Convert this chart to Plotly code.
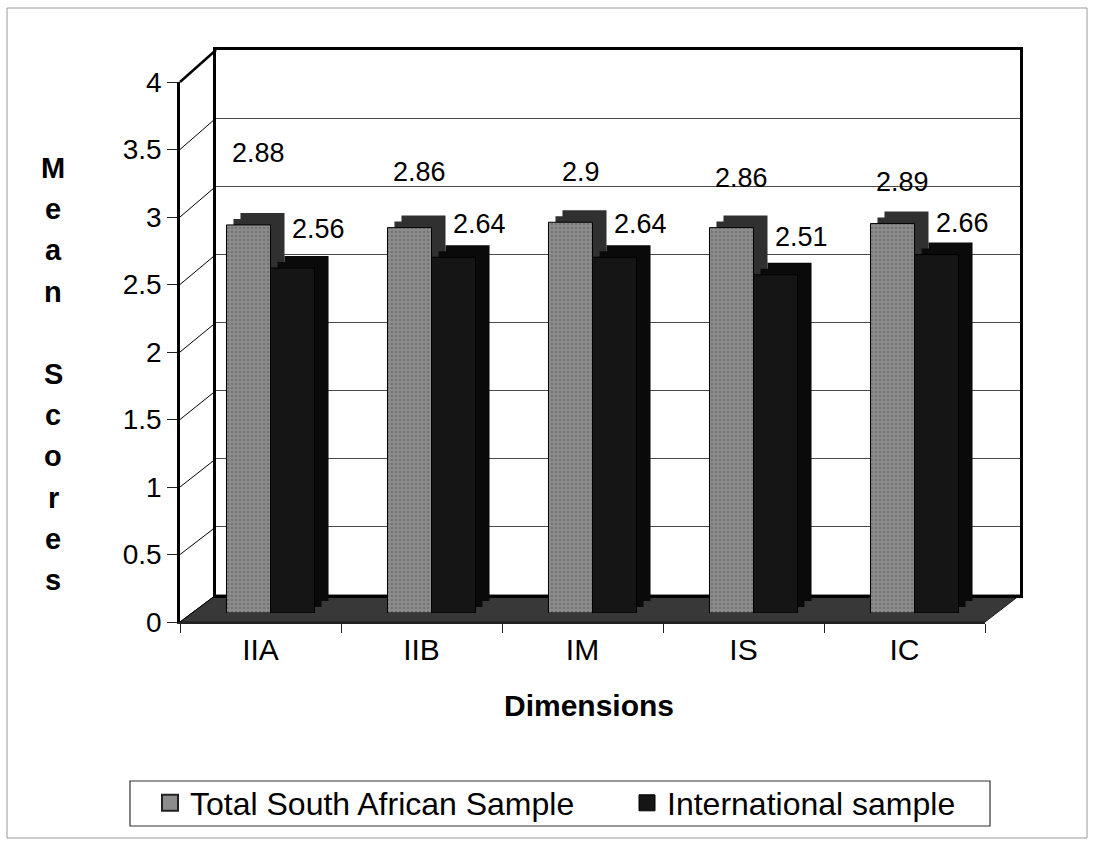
import plotly.graph_objects as go

# ---------------- data ----------------
categories = ["IIA", "IIB", "IM", "IS", "IC"]
total_sa = [2.88, 2.86, 2.90, 2.86, 2.89]
international = [2.56, 2.64, 2.64, 2.51, 2.66]
series_names = ["Total South African Sample", "International sample"]
y_ticks = [0, 0.5, 1, 1.5, 2, 2.5, 3, 3.5, 4]
y_tick_labels = ["0", "0.5", "1", "1.5", "2", "2.5", "3", "3.5", "4"]
x_title = "Dimensions"
y_title = "Mean Scores"

# ---------------- layout helpers (pixels) ----------------
W, H = 1093, 843
def fx(px):
    return px / W
def fy(py):
    return 1 - py / H

# boxes: (left, right, top, bottom) in pixels
WALL = (216, 1020, 50, 595)    # back wall of the 3-D box
DEPTH = (204, 1009, 62, 601)   # back faces of the columns
MID = (197, 1002, 68, 607)     # middle slice of the columns (fills the extrusion)
FRONT = (190, 995, 74, 613)    # front faces of the columns
AXIS = (180, 985, 82, 622)     # front axis with ticks/labels

# label lifts (pixels above the column tops) - styling only
lift_total = [72, 56, 50, 50, 42]
lift_intl = [39, 33, 33, 38, 32]

FONT = "Liberation Sans, Arial, sans-serif"
GREY = "#8c8c8c"
BLACK = "#151515"

fig = go.Figure()

# dummy trace so the back-wall subplot is drawn
fig.add_trace(go.Scatter(x=[None], y=[None], xaxis="x", yaxis="y", mode="markers",
                         showlegend=False, hoverinfo="skip"))

# depth (extrusion) of the columns: back slice and middle slice
for ax in ("2", "3"):
    fig.add_trace(go.Bar(x=categories, y=total_sa, xaxis="x" + ax, yaxis="y" + ax,
                         marker=dict(color="#303030", line=dict(width=0)),
                         showlegend=False, hoverinfo="skip"))
    fig.add_trace(go.Bar(x=categories, y=international, xaxis="x" + ax, yaxis="y" + ax,
                         marker=dict(color="#0a0a0a", line=dict(width=0)),
                         showlegend=False, hoverinfo="skip"))

# front faces
fig.add_trace(go.Bar(x=categories, y=total_sa, xaxis="x4", yaxis="y4",
                     name=series_names[0], showlegend=False,
                     marker=dict(color=GREY, line=dict(color="black", width=1),
                                 pattern=dict(shape=".", fgcolor="#5a5a5a", size=4, solidity=0.3))))
fig.add_trace(go.Bar(x=categories, y=international, xaxis="x4", yaxis="y4",
                     name=series_names[1], showlegend=False,
                     marker=dict(color=BLACK, line=dict(color="black", width=1))))

# dummy trace to give the front category axis its categories
fig.add_trace(go.Scatter(x=categories, y=[None] * len(categories), xaxis="x5", yaxis="y5",
                         mode="markers", showlegend=False, hoverinfo="skip"))

# legend entries (square swatches)
fig.add_trace(go.Scatter(x=[None], y=[None], xaxis="x5", yaxis="y5", mode="markers",
                         name=series_names[0], hoverinfo="skip",
                         marker=dict(symbol="square", size=16, color=GREY,
                                     line=dict(color="#222", width=2))))
fig.add_trace(go.Scatter(x=[None], y=[None], xaxis="x5", yaxis="y5", mode="markers",
                         name=series_names[1], hoverinfo="skip",
                         marker=dict(symbol="square", size=16, color=BLACK,
                                     line=dict(color="black", width=1))))

cat_range = [-0.5, len(categories) - 0.5]

def dom_x(box):
    return [fx(box[0]), fx(box[1])]
def dom_y(box):
    return [fy(box[3]), fy(box[2])]

hidden_x = dict(range=cat_range, visible=False, type="category",
                categoryarray=categories, automargin=False)
hidden_y = dict(range=[0, 4], visible=False, automargin=False)

fig.update_layout(
    width=W, height=H, autosize=False,
    margin=dict(l=0, r=0, t=0, b=0, pad=0, autoexpand=False),
    paper_bgcolor="white", plot_bgcolor="rgba(0,0,0,0)",
    font=dict(family=FONT, color="black"),
    barmode="group", bargap=0.453, bargroupgap=0,
    # back wall
    xaxis=dict(domain=dom_x(WALL), range=[0, 1], showgrid=False, zeroline=False,
               showticklabels=False, ticks="", showline=True, mirror=True,
               linecolor="black", linewidth=2.5, anchor="y", automargin=False),
    yaxis=dict(domain=dom_y(WALL), range=[0, 4], dtick=0.5, showgrid=True,
               gridcolor="#4a4a4a", gridwidth=1, zeroline=False, showticklabels=False,
               ticks="", showline=True, mirror=True, linecolor="black", linewidth=2.5,
               anchor="x", automargin=False),
    xaxis2=dict(domain=dom_x(DEPTH), anchor="y2", **hidden_x),
    yaxis2=dict(domain=dom_y(DEPTH), anchor="x2", **hidden_y),
    xaxis3=dict(domain=dom_x(MID), anchor="y3", **hidden_x),
    yaxis3=dict(domain=dom_y(MID), anchor="x3", **hidden_y),
    xaxis4=dict(domain=dom_x(FRONT), anchor="y4", **hidden_x),
    yaxis4=dict(domain=dom_y(FRONT), anchor="x4", **hidden_y),
    # front axis
    xaxis5=dict(domain=dom_x(AXIS), range=cat_range, type="category",
                categoryarray=categories, anchor="y5", showgrid=False, zeroline=False,
                showline=True, linecolor="#222", linewidth=1.5,
                ticks="outside", tickson="boundaries", ticklen=9, tickcolor="#222",
                tickfont=dict(size=30, family=FONT, color="black"), automargin=False),
    yaxis5=dict(domain=dom_y(AXIS), range=[0, 4], anchor="x5", showgrid=False,
                zeroline=False, showline=True, linecolor="black", linewidth=2.5,
                tickmode="array", tickvals=y_ticks, ticktext=y_tick_labels,
                ticks="outside", ticklen=10, tickcolor="#222",
                tickfont=dict(size=28, family=FONT, color="black"), automargin=False),
    legend=dict(orientation="h", x=fx(150), xanchor="left", y=fy(803), yanchor="middle",
                bgcolor="rgba(0,0,0,0)", borderwidth=0,
                font=dict(size=32, family=FONT, color="black"),
                entrywidth=432, entrywidthmode="pixels", traceorder="normal"),
)

shapes = []
# floor
fl, fr, ft, fb = AXIS
wl, wr, wt, wb = WALL
shapes.append(dict(type="path", xref="paper", yref="paper", layer="below",
                   path=f"M {fx(fl)} {fy(fb)} L {fx(fr)} {fy(fb)} L {fx(wr)} {fy(wb)} L {fx(wl)} {fy(wb)} Z",
                   fillcolor="#383838", line=dict(color="#1a1a1a", width=1)))
# left side wall diagonals
for v in y_ticks:
    ya = fb - v * (fb - ft) / 4
    yw = wb - v * (wb - wt) / 4
    shapes.append(dict(type="line", xref="paper", yref="paper", layer="above",
                       x0=fx(fl), y0=fy(ya), x1=fx(wl), y1=fy(yw),
                       line=dict(color="black", width=2.5 if v == 4 else 1)))
# legend box
shapes.append(dict(type="rect", xref="paper", yref="paper", layer="below",
                   x0=fx(130), x1=fx(990), y0=fy(826), y1=fy(781),
                   line=dict(color="#333", width=1.2), fillcolor="rgba(0,0,0,0)"))
# outer chart border
shapes.append(dict(type="rect", xref="paper", yref="paper", layer="below",
                   x0=fx(7), x1=fx(1087), y0=fy(838), y1=fy(8),
                   line=dict(color="#9a9a9a", width=1), fillcolor="rgba(0,0,0,0)"))
fig.update_layout(shapes=shapes)

annotations = []
for i, c in enumerate(categories):
    annotations.append(dict(x=c, y=total_sa[i], xref="x4", yref="y4", text=f"{total_sa[i]:g}",
                            showarrow=False, xshift=-12, yshift=lift_total[i],
                            font=dict(size=27, family=FONT, color="black")))
    annotations.append(dict(x=c, y=international[i], xref="x4", yref="y4", text=f"{international[i]:g}",
                            showarrow=False, xshift=48, yshift=lift_intl[i],
                            font=dict(size=27, family=FONT, color="black")))
# x title
annotations.append(dict(x=fx(589), y=fy(705), xref="paper", yref="paper", text=f"<b>{x_title}</b>",
                        showarrow=False, xanchor="center", yanchor="middle",
                        font=dict(size=30, family=FONT, color="black")))
# y title as stacked letters
for i, ch in enumerate(y_title):
    if ch == " ":
        continue
    annotations.append(dict(x=fx(53), y=fy(168 + 41.2 * i), xref="paper", yref="paper",
                            text=f"<b>{ch}</b>", showarrow=False, xanchor="center", yanchor="middle",
                            font=dict(size=29, family=FONT, color="black")))
fig.update_layout(annotations=annotations)

fig.write_html("out.html", config={"displayModeBar": False},
               post_script="document.body.style.margin='0';")
